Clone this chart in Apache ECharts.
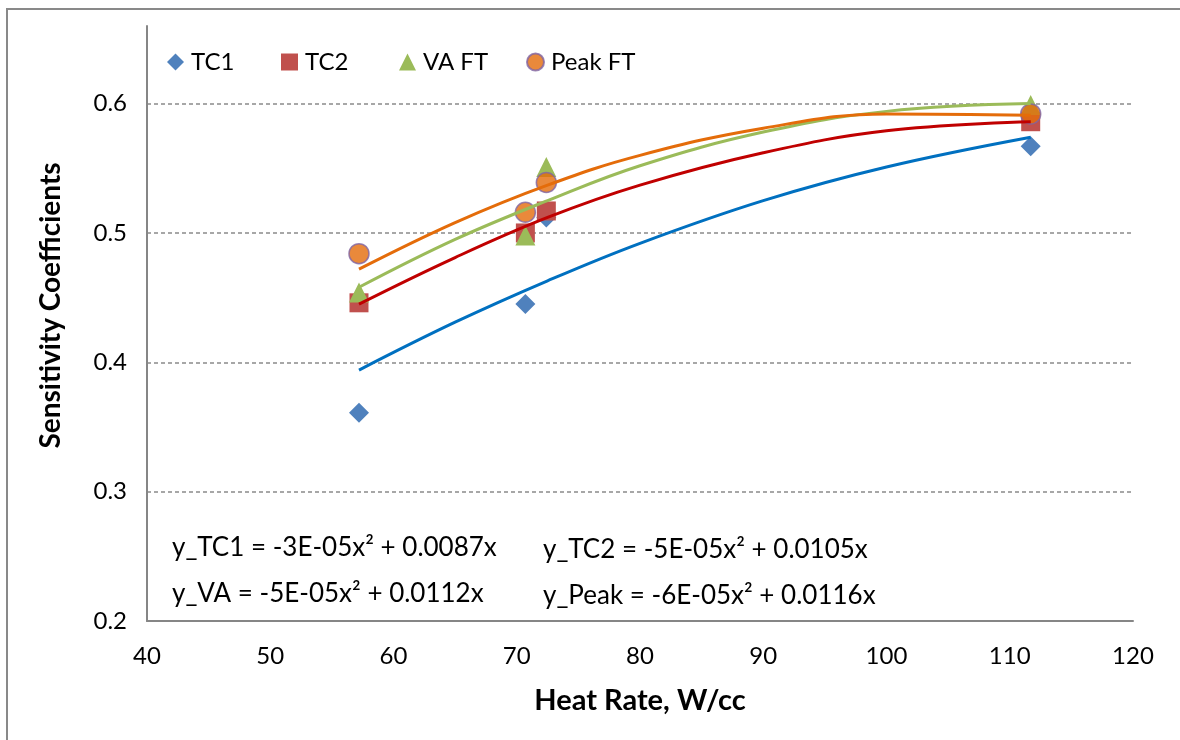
<!DOCTYPE html>
<html><head><meta charset="utf-8">
<script src="https://cdn.jsdelivr.net/npm/echarts@6/dist/echarts.min.js"></script>
<style>html,body{margin:0;padding:0;background:#fff}#c{width:1180px;height:740px}</style>
</head><body><div id="c"></div>
<script>
// ---- data ----
const heatRate = [57.2, 70.7, 72.4, 111.7];
const tc1 = [0.361, 0.445, 0.512, 0.567];
const tc2 = [0.446, 0.500, 0.517, 0.586];
const vaFT = [0.454, 0.498, 0.551, 0.599];
const peakFT = [0.484, 0.516, 0.539, 0.592];

// trend curves read at these heat rates
const fitX = [57.2, 65, 72.5, 80, 90, 100, 111.7];
const tc1Fit = [0.394, 0.431, 0.463, 0.492, 0.525, 0.551, 0.574];
const tc2Fit = [0.445, 0.481, 0.512, 0.537, 0.562, 0.579, 0.586];
const vaFit = [0.458, 0.495, 0.525, 0.552, 0.578, 0.594, 0.600];
const peakFit = [0.472, 0.508, 0.537, 0.560, 0.581, 0.592, 0.591];

const seriesNames = ['TC1', 'TC2', 'VA FT', 'Peak FT'];
const equations = [
  'y_TC1 = -3E-05x² + 0.0087x',
  'y_TC2 = -5E-05x² + 0.0105x',
  'y_VA = -5E-05x² + 0.0112x',
  'y_Peak = -6E-05x² + 0.0116x'
];
const xTicks = {min: 40, max: 120, step: 10};
const yTicks = {min: 0.2, step: 0.1};

const FONT = 'Lato, "Open Sans", sans-serif';
const pair = (xs, ys) => xs.map((x, i) => [x, ys[i]]);

const chart = echarts.init(document.getElementById('c'), null, {renderer: 'canvas'});

function scatter(name, data, symbol, size, color, extra) {
  return Object.assign({
    name, type: 'scatter', data: pair(heatRate, data), symbol, symbolSize: size,
    itemStyle: {color, opacity: 1}, z: 2, emphasis: {disabled: true}
  }, extra || {});
}
function fit(data, color) {
  return {
    type: 'line', data: pair(fitX, data), smooth: 0.4,
    showSymbol: false, symbol: 'none',
    lineStyle: {color, width: 3}, z: 3, silent: true, emphasis: {disabled: true}
  };
}
const legendBase = {
  top: 50, itemWidth: 17, itemHeight: 17, padding: 0, itemGap: 0,
  selectedMode: false,
  textStyle: {fontFamily: FONT, fontSize: 24, color: '#000', padding: [0, 0, 0, 2]}
};

chart.setOption({
  animation: false,
  backgroundColor: '#fff',
  grid: {left: 147, right: 47, top: 26, bottom: 119, containLabel: false},
  legend: [
    Object.assign({}, legendBase, {data: [seriesNames[0]], left: 167}),
    Object.assign({}, legendBase, {data: [seriesNames[1]], left: 281}),
    Object.assign({}, legendBase, {data: [seriesNames[2]], left: 399}),
    Object.assign({}, legendBase, {data: [seriesNames[3]], left: 526})
  ],
  xAxis: {
    type: 'value', min: xTicks.min, max: xTicks.max, interval: xTicks.step,
    axisLine: {show: true, onZero: false, lineStyle: {color: '#868686', width: 2}},
    axisTick: {show: false},
    splitLine: {show: false},
    axisLabel: {fontFamily: FONT, fontSize: 24, color: '#000', margin: 23},
    name: 'Heat Rate, W/cc', nameLocation: 'middle', nameGap: 65,
    nameTextStyle: {fontFamily: FONT, fontSize: 29, fontWeight: 'bold', color: '#000'}
  },
  yAxis: {
    type: 'value', min: yTicks.min, max: 0.66, interval: yTicks.step,
    axisLine: {show: true, onZero: false, lineStyle: {color: '#868686', width: 2}},
    axisTick: {show: false},
    splitLine: {show: true, showMinLine: false, showMaxLine: false,
      lineStyle: {color: '#8a8a8a', width: 1.5, type: [4, 3]}},
    axisLabel: {fontFamily: FONT, fontSize: 24, color: '#000', margin: 20,
      showMaxLabel: false, formatter: v => v.toFixed(1)},
    name: 'Sensitivity Coefficients', nameLocation: 'middle', nameGap: 82,
    nameTextStyle: {fontFamily: FONT, fontSize: 28, fontWeight: 'bold', color: '#000',
      padding: [0, 0, 0, 36]}
  },
  series: [
    scatter(seriesNames[0], tc1, 'diamond', 20, '#4F81BD'),
    scatter(seriesNames[1], tc2, 'rect', 19, '#C0504D'),
    scatter(seriesNames[2], vaFT, 'triangle', 20, '#9BBB59'),
    scatter(seriesNames[3], peakFT, 'circle', 20, '#E46C0A',
      {itemStyle: {color: '#E46C0A', borderColor: '#8064A2', borderWidth: 1.5}}),
    fit(tc1Fit, '#0070C0'),
    fit(tc2Fit, '#C00000'),
    fit(vaFit, '#9BBB59'),
    fit(peakFit, '#E46C0A')
  ],
  graphic: [
    {type: 'rect', silent: true, z: -10,
      shape: {x: 7, y: 9, width: 1200, height: 800},
      style: {fill: 'none', stroke: '#898989', lineWidth: 2}},
    {type: 'text', left: 172, top: 535, silent: true,
      style: {text: equations[0], font: '26px ' + FONT, fill: '#000'}},
    {type: 'text', left: 543, top: 537, silent: true,
      style: {text: equations[1], font: '26px ' + FONT, fill: '#000'}},
    {type: 'text', left: 172, top: 581, silent: true,
      style: {text: equations[2], font: '26px ' + FONT, fill: '#000'}},
    {type: 'text', left: 543, top: 583, silent: true,
      style: {text: equations[3], font: '26px ' + FONT, fill: '#000'}}
  ]
});
</script></body></html>
